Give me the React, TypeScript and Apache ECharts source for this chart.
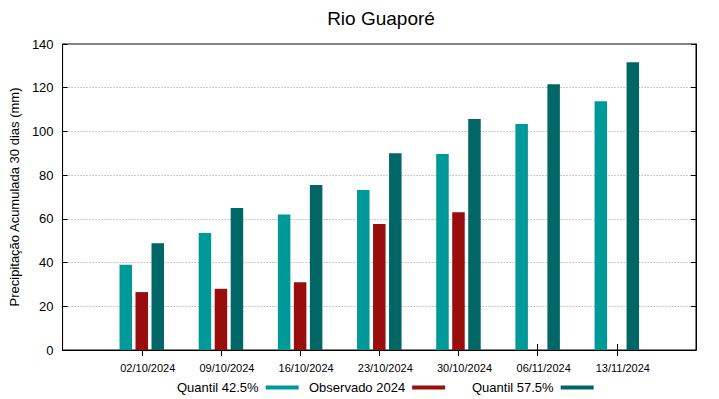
import React, { useEffect, useRef } from "react";
import * as echarts from "echarts";

const categories = ["", "02/10/2024", "09/10/2024", "16/10/2024", "23/10/2024", "30/10/2024", "06/11/2024", "13/11/2024", ""];
const quantil425 = [null, 39, 53.5, 62, 73.2, 89.7, 103.4, 113.8, null];
const observado2024 = [null, 26.5, 28, 31, 57.6, 63, null, null, null];
const quantil575 = [null, 48.8, 65, 75.5, 90, 105.7, 121.6, 131.6, null];
const yTicks = [0, 20, 40, 60, 80, 100, 120, 140];

const FONT = "Liberation Sans, Arial, sans-serif";

export default function App() {
  const ref = useRef<HTMLDivElement>(null);
  useEffect(() => {
    if (!ref.current) return;
    const chart = echarts.init(ref.current, null, { renderer: "svg" });
    const legendCommon = {
      top: 381,
      align: "right",
      icon: "rect",
      itemWidth: 33,
      itemHeight: 4,
      itemGap: 0,
      padding: 0,
      textStyle: { fontFamily: FONT, fontSize: 13, color: "#000", padding: [0, 2, 0, 0] },
    };
    chart.setOption({
      animation: false,
      textStyle: { fontFamily: FONT },
      title: {
        text: "Rio Guaporé",
        left: 376,
        top: 4,
        textAlign: "center",
        textStyle: { fontFamily: FONT, fontSize: 19, fontWeight: "normal", color: "#000" },
      },
      legend: [
        { ...legendCommon, left: 177, data: ["Quantil 42.5%"] },
        { ...legendCommon, left: 309, data: ["Observado 2024"] },
        { ...legendCommon, left: 472, data: ["Quantil 57.5%"] },
      ],
      grid: {
        left: 59,
        right: 23,
        top: 44,
        bottom: 49,
        show: true,
        borderColor: "#000",
        borderWidth: 1,
        backgroundColor: "transparent",
      },
      xAxis: [
        {
          type: "category",
          data: categories,
          boundaryGap: false,
          axisLine: { show: true, lineStyle: { color: "#000", width: 1 } },
          axisTick: {
            show: true,
            inside: true,
            length: 6,
            lineStyle: { color: "#000" },
            interval: (i: number) => i > 0 && i < categories.length - 1,
          },
          axisLabel: {
            interval: 0,
            fontFamily: FONT,
            fontSize: 11,
            color: "#000",
            margin: 12,
            padding: [0, 0, 0, 12],
          },
          splitLine: { show: false },
        },
        {
          type: "category",
          data: categories,
          boundaryGap: false,
          position: "top",
          axisLine: { show: true, lineStyle: { color: "#000", width: 1 } },
          axisTick: {
            show: true,
            inside: true,
            length: 6,
            lineStyle: { color: "#000" },
            interval: (i: number) => i > 0 && i < categories.length - 1,
          },
          axisLabel: { show: false },
          splitLine: { show: false },
        },
      ],
      yAxis: [
        {
          type: "value",
          min: 0,
          max: 140,
          interval: 20,
          name: "Precipitação Acumulada 30 dias (mm)",
          nameLocation: "middle",
          nameGap: 36,
          nameRotate: 90,
          nameTextStyle: { fontFamily: FONT, fontSize: 13, color: "#000" },
          axisLine: { show: true, lineStyle: { color: "#000" } },
          axisTick: { show: true, inside: true, length: 5, lineStyle: { color: "#000" } },
          axisLabel: {
            fontFamily: FONT,
            fontSize: 13,
            color: "#000",
            margin: 9,
            formatter: (v: number) => (yTicks.includes(v) ? String(v) : ""),
          },
          splitLine: { show: true, lineStyle: { color: "#999", type: [1, 2], width: 1 } },
        },
        {
          type: "value",
          min: 0,
          max: 140,
          interval: 20,
          position: "right",
          axisLine: { show: true, lineStyle: { color: "#000" } },
          axisTick: { show: true, inside: true, length: 5, lineStyle: { color: "#000" } },
          axisLabel: { show: false },
          splitLine: { show: false },
        },
      ],
      series: [
        {
          name: "Quantil 42.5%",
          type: "bar",
          data: quantil425,
          barWidth: 12.5,
          barGap: "28%",
          itemStyle: { color: "#009999" },
        },
        {
          name: "Observado 2024",
          type: "bar",
          data: observado2024,
          barWidth: 12.5,
          barGap: "28%",
          itemStyle: { color: "#990d0d" },
        },
        {
          name: "Quantil 57.5%",
          type: "bar",
          data: quantil575,
          barWidth: 12.5,
          barGap: "28%",
          itemStyle: { color: "#006666" },
        },
      ],
    });
    return () => chart.dispose();
  }, []);
  return <div ref={ref} style={{ width: 719, height: 399, position: "absolute", left: 0, top: 0 }} />;
}
